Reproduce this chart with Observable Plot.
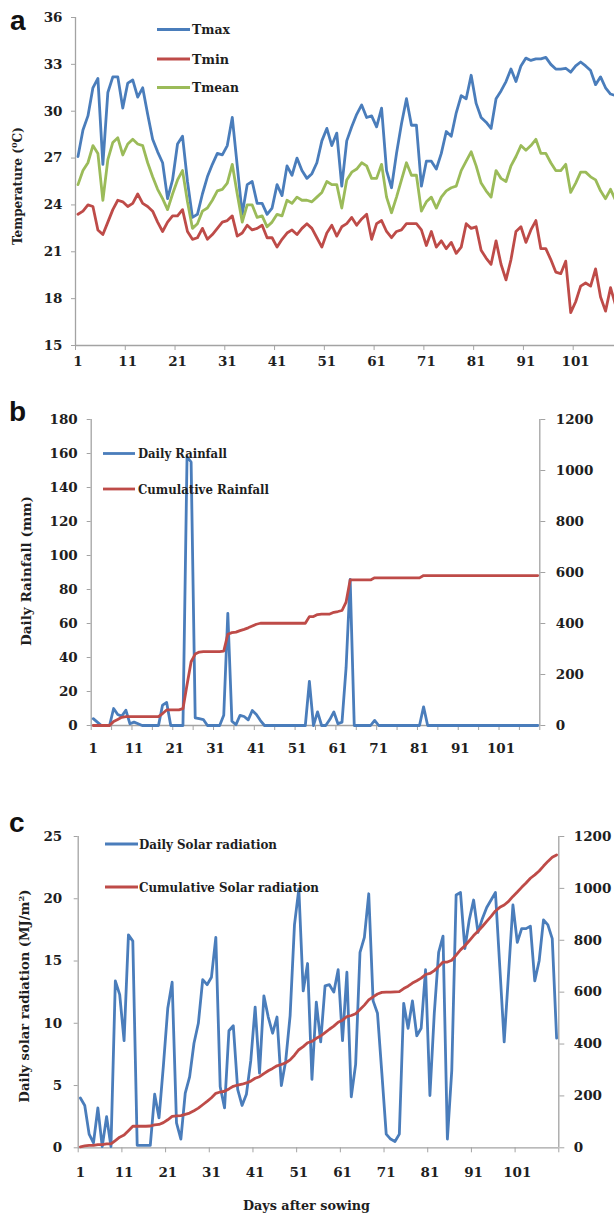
<!DOCTYPE html>
<html>
<head>
<meta charset="utf-8">
<script src="https://cdn.jsdelivr.net/npm/d3@7"></script>
<script src="https://cdn.jsdelivr.net/npm/@observablehq/plot@0.6"></script>
<style>
html, body { margin:0; padding:0; background:#fff; overflow:hidden; }
#wrap { position:relative; width:614px; height:1215px; background:#fff; }
#wrap > .p { position:absolute; left:0; }
#overlay { position:absolute; left:0; top:0; pointer-events:none; }
</style>
</head>
<body>
<div id="wrap">
  <div class="p" id="pa" style="top:0px"></div>
  <div class="p" id="pb" style="top:380px"></div>
  <div class="p" id="pc" style="top:800px"></div>
  <svg id="overlay" width="614" height="1215" font-family="DejaVu Serif, serif" font-weight="bold" fill="#1e1e1e">
    <g font-family="Liberation Sans, Arial, sans-serif" font-size="28" fill="#111">
      <text x="10" y="30">a</text>
      <text x="9" y="421">b</text>
      <text x="9" y="832">c</text>
    </g>
    <text transform="translate(22,186) rotate(-90)" text-anchor="middle" font-size="12" textLength="118" lengthAdjust="spacingAndGlyphs">Temperature (<tspan font-size="8" dy="-5">0</tspan><tspan dy="5">C)</tspan></text>
    <text transform="translate(31,571) rotate(-90)" text-anchor="middle" font-size="13" textLength="150" lengthAdjust="spacingAndGlyphs">Daily Rainfall (mm)</text>
    <text transform="translate(29,996) rotate(-90)" text-anchor="middle" font-size="12.5" textLength="213" lengthAdjust="spacingAndGlyphs">Daily solar radiation (MJ/m<tspan font-size="8" dy="-5">2</tspan><tspan dy="5">)</tspan></text>
    <text x="306.5" y="1210" text-anchor="middle" font-size="12.5" textLength="127" lengthAdjust="spacingAndGlyphs">Days after sowing</text>
    <g font-size="12.5" stroke-width="2.8">
      <line x1="157" x2="190" y1="29.5" y2="29.5" stroke="#4a7dbb"/>
      <text x="192" y="34" textLength="38" lengthAdjust="spacingAndGlyphs">Tmax</text>
      <line x1="157" x2="190" y1="59" y2="59" stroke="#be4b48"/>
      <text x="192" y="63.5" textLength="37" lengthAdjust="spacingAndGlyphs">Tmin</text>
      <line x1="157" x2="190" y1="87.5" y2="87.5" stroke="#9bbb59"/>
      <text x="192" y="92" textLength="47" lengthAdjust="spacingAndGlyphs">Tmean</text>

      <line x1="103" x2="135" y1="453.5" y2="453.5" stroke="#4a7dbb"/>
      <text x="138" y="458" textLength="89" lengthAdjust="spacingAndGlyphs">Daily Rainfall</text>
      <line x1="103" x2="135" y1="489" y2="489" stroke="#be4b48"/>
      <text x="138" y="493.5" textLength="131" lengthAdjust="spacingAndGlyphs">Cumulative Rainfall</text>

      <line x1="105" x2="138" y1="844" y2="844" stroke="#4a7dbb"/>
      <text x="139" y="848.5" textLength="138" lengthAdjust="spacingAndGlyphs">Daily Solar radiation</text>
      <line x1="105" x2="138" y1="887" y2="887" stroke="#be4b48"/>
      <text x="139" y="891.5" textLength="180" lengthAdjust="spacingAndGlyphs">Cumulative Solar radiation</text>
    </g>
  </svg>
</div>
<script>
// ---------- data ----------
const days = Array.from({length: 110}, (_, i) => i + 1);

const tmax = [27.1,28.8,29.7,31.5,32.1,26.6,31.2,32.2,32.2,30.2,
  31.8,32.0,30.9,31.5,29.8,28.2,27.4,26.7,24.4,25.6,
  27.9,28.4,25.5,23.2,23.4,24.7,25.8,26.6,27.3,27.2,
  27.8,29.6,26.5,23.4,25.3,25.5,24.1,24.1,23.4,23.8,
  25.3,24.6,26.5,25.9,27.0,26.2,25.7,26.0,26.7,28.1,
  28.9,27.8,28.6,25.2,28.1,29.0,29.8,30.4,29.6,29.7,
  29.0,30.2,26.2,25.1,27.3,29.2,30.8,29.1,29.1,25.2,
  26.8,26.8,26.3,27.3,28.7,28.4,29.9,31.0,30.8,32.3,
  30.5,29.6,29.3,28.9,30.8,31.3,31.9,32.7,31.9,32.9,
  33.4,33.25,33.35,33.35,33.45,33.0,32.7,32.7,32.75,32.5,
  32.9,33.15,32.9,32.6,31.7,32.2,31.5,31.1,31.0,30.9];

const tmin = [23.4,23.6,24.0,23.9,22.4,22.1,22.9,23.7,24.3,24.2,
  23.9,24.1,24.7,24.1,23.9,23.6,22.9,22.3,22.9,23.3,
  23.3,23.7,22.3,21.8,21.9,22.5,21.8,22.1,22.5,22.9,
  23.0,23.3,22.0,22.2,22.7,22.4,22.5,22.7,21.9,21.9,
  21.3,21.8,22.2,22.4,22.1,22.5,22.8,22.5,21.9,21.3,
  22.2,22.7,22.0,22.6,22.8,23.2,22.7,23.1,23.4,21.8,
  22.8,23.0,22.3,21.9,22.3,22.4,22.8,22.8,22.8,22.4,
  21.4,22.3,21.3,21.7,21.2,21.6,20.9,21.3,22.8,22.5,
  22.6,21.1,20.6,20.2,21.7,20.2,19.2,20.5,22.3,22.6,
  21.6,22.4,23.0,21.2,21.2,20.5,19.7,19.6,20.4,17.1,
  17.8,18.8,19.0,18.8,19.9,18.1,17.2,18.7,17.6,17.3];

const tmean = [25.3,26.2,26.7,27.8,27.3,24.3,26.9,28.0,28.3,27.2,
  27.9,28.2,27.9,27.8,26.7,25.8,25.0,24.4,23.7,24.7,
  25.6,26.2,24.2,22.5,22.8,23.6,23.8,24.3,24.9,25.0,
  25.4,26.6,24.7,22.9,24.0,24.0,23.2,23.3,22.6,22.9,
  23.4,23.3,24.3,24.1,24.5,24.3,24.3,24.2,24.5,24.8,
  25.5,25.3,25.3,23.8,25.6,26.1,26.3,26.7,26.5,25.7,
  25.7,26.6,24.5,23.5,24.5,25.6,26.7,25.9,25.9,23.6,
  24.2,24.5,23.8,24.5,24.9,25.1,25.2,26.2,26.8,27.4,
  26.5,25.4,24.9,24.5,26.2,25.7,25.5,26.5,27.1,27.8,
  27.5,27.8,28.2,27.3,27.3,26.7,26.2,26.2,26.6,24.8,
  25.4,26.1,26.1,25.8,25.6,24.9,24.4,25.0,24.3,24.0];

const rainDaily = [4,2,0,0,0,10,6.5,5.5,9,1,
  2,1,0,0,0,0,0,12,13.5,0,
  0,0,0,158,155,4.5,4,3.5,0,0,
  0,0,6,66,2.5,0.5,6,5.3,3.3,8.8,
  6.5,2.9,0,0,0,0,0,0,0,0,
  0,0,0,26,0,8,0,0,3.5,8,
  1,2,34,86,0,0,0,0,0,3,
  0,0,0,0,0,0,0,0,0,0,
  0,11,0,0,0,0,0,0,0,0,
  0,0,0,0,0,0,0,0,0,0,
  0,0,0,0,0,0,0,0,0,0];

const rainCum = [0,0,0,0,0,16,24,32,35,35,
  35,35,35,35,35,35,35,47,61,61,
  61,61,66,160,250,280,288,290,290,290,
  290,290,292,358,364,366,372,377,383,390,
  397,401,401,401,401,401,401,401,401,401,
  401,401,401,427,427,435,437,437,437,444,
  447,451,484,571,571,571,571,571,571,579,
  579,579,579,579,579,579,579,579,579,579,
  579,588,588,588,588,588,588,588,588,588,
  588,588,588,588,588,588,588,588,588,588,
  588,588,588,588,588,588,588,588,588,588];

const solarDaily = [4.0,3.4,1.1,0.4,3.2,0.1,2.5,0.1,13.4,12.3,
  8.6,17.1,16.6,0.2,0.2,0.2,0.2,4.3,2.4,6.6,
  11.2,13.3,2.0,0.7,4.4,5.7,8.4,10.0,13.5,13.1,
  13.7,16.9,4.9,3.2,9.4,9.8,4.7,3.4,4.3,7.0,
  11.3,6.0,12.2,10.5,9.2,10.5,5.0,7.0,10.6,17.9,
  20.8,12.6,14.8,5.5,11.7,8.5,13.0,13.1,12.5,14.3,
  8.6,14.1,4.1,6.7,15.7,16.9,20.4,11.8,10.8,6.0,
  1.1,0.7,0.5,1.1,11.6,9.6,11.8,9.0,9.6,14.3,
  4.2,10.8,15.7,17.0,0.7,6.2,20.3,20.5,16.0,18.3,
  19.9,17.3,18.4,19.3,19.9,20.5,14.5,8.5,14.0,19.5,
  16.5,17.6,17.6,17.8,13.4,15.0,18.3,17.9,16.8,8.8];

const solarCum = [4,7,9,9,12,12,15,15,28,41,
  49,66,83,83,83,83,84,88,90,97,
  108,121,123,124,129,134,143,153,166,179,
  193,210,215,218,227,237,242,245,250,257,
  268,274,286,297,306,316,321,328,339,357,
  378,390,405,410,422,431,444,457,469,484,
  492,506,510,517,533,550,570,582,593,599,
  600,600,601,602,614,623,635,644,654,668,
  672,683,699,716,716,723,743,763,779,798,
  818,835,853,873,892,913,927,936,950,969,
  986,1004,1021,1039,1052,1067,1086,1104,1120,1129];

const tempTicks = [15,18,21,24,27,30,33,36];
const rainTicks = [0,20,40,60,80,100,120,140,160,180];
const rainCumTicks = [0,200,400,600,800,1000,1200];
const solarTicks = [0,5,10,15,20,25];
const solarCumTicks = [0,200,400,600,800,1000,1200];
const dayLabels = [1,11,21,31,41,51,61,71,81,91,101];
const tickEdges10 = [0.5,10.5,20.5,30.5,40.5,50.5,60.5,70.5,80.5,90.5,100.5,110.5];
const tickEdges5 = [0.5,5.5,10.5,15.5,20.5,25.5,30.5,35.5,40.5,45.5,50.5,55.5,60.5,65.5,70.5,75.5,80.5,85.5,90.5,95.5,100.5,105.5,110.5];

// ---------- styling ----------
const BLUE = "#4a7dbb", RED = "#be4b48", GREEN = "#9bbb59", AXIS = "#a3a3a3", INK = "#1e1e1e";
const LW = 2.8;
const baseStyle = "font-family:'DejaVu Serif',serif;font-size:13.5px;font-weight:bold;color:#1e1e1e;background:transparent;overflow:visible;";

// ---------- panel a ----------
const tempRows = [
  ...days.map((d, i) => ({day: d, series: "Tmax", value: tmax[i]})),
  ...days.map((d, i) => ({day: d, series: "Tmin", value: tmin[i]})),
  ...days.map((d, i) => ({day: d, series: "Tmean", value: tmean[i]}))
];

const plotA = Plot.plot({
  width: 614, height: 380,
  marginTop: 17, marginBottom: 35, marginLeft: 75, marginRight: 0,
  style: baseStyle,
  x: {domain: [0.5, 108.8]},
  y: {domain: [15, 36]},
  color: {domain: ["Tmax", "Tmin", "Tmean"], range: [BLUE, RED, GREEN]},
  marks: [
    Plot.ruleY([15], {stroke: AXIS, strokeWidth: 1.3}),
    Plot.ruleX([0.5], {stroke: AXIS, strokeWidth: 1.3}),
    Plot.axisY({ticks: tempTicks, tickSize: 4, tickPadding: 9, stroke: AXIS, fill: INK, label: null}),
    Plot.axisX({ticks: tickEdges10.slice(0, 11), tickFormat: () => "", tickSize: 5, stroke: AXIS, fill: INK, label: null}),
    Plot.axisX({ticks: dayLabels, tickSize: 0, tickPadding: 11, fill: INK, label: null}),
    Plot.line(tempRows, {x: "day", y: "value", z: "series", stroke: "series", strokeWidth: LW, clip: true})
  ]
});
document.getElementById("pa").appendChild(plotA);

// ---------- panel b ----------
const kB = 180 / 1200;
const rainRows = days.map((d, i) => ({day: d, daily: rainDaily[i], cum: rainCum[i]}));

const plotB = Plot.plot({
  width: 614, height: 385,
  marginTop: 39, marginBottom: 40, marginLeft: 90.7, marginRight: 74.7,
  style: baseStyle,
  x: {domain: [0.5, 110.5]},
  y: {domain: [0, 180]},
  marks: [
    Plot.ruleY([0], {stroke: AXIS, strokeWidth: 1.3}),
    Plot.ruleX([0.5], {stroke: AXIS, strokeWidth: 1.3}),
    Plot.ruleX([110.5], {stroke: AXIS, strokeWidth: 1.3}),
    Plot.axisY({ticks: rainTicks, tickSize: 4, tickPadding: 9.5, stroke: AXIS, fill: INK, label: null}),
    Plot.axisY({anchor: "right", ticks: rainCumTicks.map(v => v * kB), tickFormat: v => String(Math.round(v / kB)), tickSize: 5, tickPadding: 11, stroke: AXIS, fill: INK, label: null}),
    Plot.axisX({ticks: tickEdges5, tickFormat: () => "", tickSize: 5, stroke: AXIS, fill: INK, label: null}),
    Plot.axisX({ticks: dayLabels, tickSize: 0, tickPadding: 18, fill: INK, label: null}),
    Plot.line(rainRows, {x: "day", y: "daily", stroke: BLUE, strokeWidth: LW}),
    Plot.line(rainRows, {x: "day", y: d => d.cum * kB, stroke: RED, strokeWidth: LW})
  ]
});
document.getElementById("pb").appendChild(plotB);

// ---------- panel c ----------
const kC = 25 / 1200;
const solarRows = days.map((d, i) => ({day: d, daily: solarDaily[i], cum: solarCum[i]}));

const plotC = Plot.plot({
  width: 614, height: 415,
  marginTop: 36, marginBottom: 67.7, marginLeft: 77.7, marginRight: 55.7,
  style: baseStyle,
  x: {domain: [0.5, 110.5]},
  y: {domain: [0, 25]},
  marks: [
    Plot.ruleY([0], {stroke: AXIS, strokeWidth: 1.3}),
    Plot.ruleX([0.5], {stroke: AXIS, strokeWidth: 1.3}),
    Plot.ruleX([110.5], {stroke: AXIS, strokeWidth: 1.3}),
    Plot.axisY({ticks: solarTicks, tickSize: 4, tickPadding: 12, stroke: AXIS, fill: INK, label: null}),
    Plot.axisY({anchor: "right", ticks: solarCumTicks.map(v => v * kC), tickFormat: v => String(Math.round(v / kC)), tickSize: 5, tickPadding: 10, stroke: AXIS, fill: INK, label: null}),
    Plot.axisX({ticks: tickEdges10, tickFormat: () => "", tickSize: 5, stroke: AXIS, fill: INK, label: null}),
    Plot.axisX({ticks: dayLabels, tickSize: 0, tickPadding: 19.5, fill: INK, label: null}),
    Plot.line(solarRows, {x: "day", y: "daily", stroke: BLUE, strokeWidth: LW}),
    Plot.line(solarRows, {x: "day", y: d => d.cum * kC, stroke: RED, strokeWidth: LW})
  ]
});
document.getElementById("pc").appendChild(plotC);
</script>
</body>
</html>
